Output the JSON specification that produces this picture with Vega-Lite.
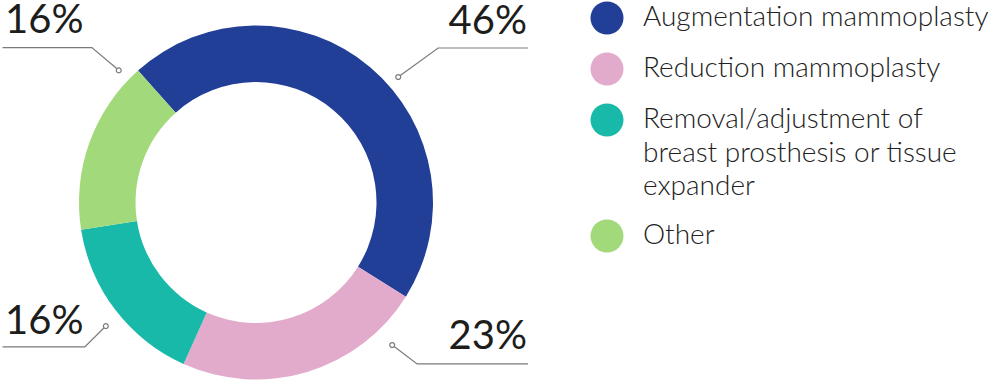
{
  "$schema": "https://vega.github.io/schema/vega-lite/v6.json",
  "width": 1005,
  "height": 383,
  "padding": 0,
  "autosize": {"type": "fit", "contains": "padding"},
  "config": {"view": {"stroke": null}, "font": "Lato"},
  "datasets": {
    "shares": [
      {"category": "Augmentation mammoplasty", "percent": 46, "rank": 1},
      {"category": "Reduction mammoplasty", "percent": 23, "rank": 2},
      {"category": "Removal/adjustment of breast prosthesis or tissue expander", "percent": 16, "rank": 3},
      {"category": "Other", "percent": 16, "rank": 4}
    ],
    "leaders": [
      {"label": "46%", "side": "right", "step": 1, "x": 0.805, "y": 0.709},
      {"label": "46%", "side": "right", "step": 2, "x": 1.031, "y": 0.873},
      {"label": "46%", "side": "right", "step": 3, "x": 1.54, "y": 0.873},
      {"label": "23%", "side": "right", "step": 1, "x": 0.771, "y": -0.805},
      {"label": "23%", "side": "right", "step": 2, "x": 0.912, "y": -0.912},
      {"label": "23%", "side": "right", "step": 3, "x": 1.54, "y": -0.912},
      {"label": "16% (removal)", "side": "left", "step": 1, "x": -0.85, "y": -0.698},
      {"label": "16% (removal)", "side": "left", "step": 2, "x": -0.969, "y": -0.816},
      {"label": "16% (removal)", "side": "left", "step": 3, "x": -1.435, "y": -0.816},
      {"label": "16% (other)", "side": "left", "step": 1, "x": -0.777, "y": 0.747},
      {"label": "16% (other)", "side": "left", "step": 2, "x": -0.929, "y": 0.875},
      {"label": "16% (other)", "side": "left", "step": 3, "x": -1.435, "y": 0.875}
    ],
    "callouts": [
      {"text": "46%", "side": "right", "x": 1.534, "y": 0.952},
      {"text": "23%", "side": "right", "x": 1.534, "y": -0.828},
      {"text": "16%", "side": "left", "x": -1.421, "y": 0.958},
      {"text": "16%", "side": "left", "x": -1.421, "y": -0.743}
    ]
  },
  "layer": [
    {
      "data": {"name": "shares"},
      "mark": {"type": "arc", "outerRadius": 177, "innerRadius": 120.5},
      "encoding": {
        "x": {"datum": 0, "type": "quantitative", "scale": {"domain": [-1.4379, 4.2401], "nice": false, "zero": false}, "axis": null},
        "y": {"datum": 0, "type": "quantitative", "scale": {"domain": [-1.0198, 1.1441], "nice": false, "zero": false}, "axis": null},
        "theta": {"field": "percent", "type": "quantitative", "stack": true, "scale": {"domain": [0, 101], "range": [-0.7295, 5.5537]}},
        "order": {"field": "rank", "type": "quantitative"},
        "color": {
          "field": "category",
          "type": "nominal",
          "scale": {
            "domain": ["Augmentation mammoplasty", "Reduction mammoplasty", "Removal/adjustment of breast prosthesis or tissue expander", "Other"],
            "range": ["#223f98", "#e2abcb", "#19b9a9", "#a1d97b"]
          },
          "legend": {
            "orient": "none",
            "legendX": 588.5,
            "legendY": 1.5,
            "padding": 0,
            "title": null,
            "symbolType": "circle",
            "symbolSize": 1089,
            "symbolStrokeWidth": 0,
            "symbolOpacity": 1,
            "labelFont": "Lato",
            "labelFontSize": 28,
            "labelFontWeight": 300,
            "labelColor": "#222222",
            "labelOffset": 19.5,
            "labelLimit": 420,
            "rowPadding": 18,
            "labelExpr": "datum.label == 'Removal/adjustment of breast prosthesis or tissue expander' ? ['Removal/adjustment of', 'breast prosthesis or tissue', 'expander'] : datum.label",
            "encode": {"labels": {"update": {"lineHeight": {"value": 33.5}}}}
          }
        }
      }
    },
    {
      "data": {"name": "leaders"},
      "mark": {"type": "line", "stroke": "#7a7a7a", "strokeWidth": 1.2},
      "encoding": {
        "x": {"field": "x", "type": "quantitative", "scale": {"domain": [-1.4379, 4.2401], "nice": false, "zero": false}, "axis": null},
        "y": {"field": "y", "type": "quantitative", "scale": {"domain": [-1.0198, 1.1441], "nice": false, "zero": false}, "axis": null},
        "detail": {"field": "label"},
        "order": {"field": "step", "type": "quantitative"}
      }
    },
    {
      "data": {"name": "leaders"},
      "transform": [{"filter": "datum.step == 1"}],
      "mark": {"type": "point", "shape": "circle", "size": 24, "filled": true, "fill": "white", "stroke": "#7a7a7a", "strokeWidth": 1.2, "opacity": 1},
      "encoding": {
        "x": {"field": "x", "type": "quantitative", "scale": {"domain": [-1.4379, 4.2401], "nice": false, "zero": false}, "axis": null},
        "y": {"field": "y", "type": "quantitative", "scale": {"domain": [-1.0198, 1.1441], "nice": false, "zero": false}, "axis": null}
      }
    },
    {
      "data": {"name": "callouts"},
      "transform": [{"filter": "datum.side == 'right'"}],
      "mark": {"type": "text", "align": "right", "baseline": "alphabetic", "font": "Lato", "fontSize": 40, "fontWeight": "normal", "color": "#1d1d1b"},
      "encoding": {
        "x": {"field": "x", "type": "quantitative", "scale": {"domain": [-1.4379, 4.2401], "nice": false, "zero": false}, "axis": null},
        "y": {"field": "y", "type": "quantitative", "scale": {"domain": [-1.0198, 1.1441], "nice": false, "zero": false}, "axis": null},
        "text": {"field": "text"}
      }
    },
    {
      "data": {"name": "callouts"},
      "transform": [{"filter": "datum.side == 'left'"}],
      "mark": {"type": "text", "align": "left", "baseline": "alphabetic", "font": "Lato", "fontSize": 40, "fontWeight": "normal", "color": "#1d1d1b"},
      "encoding": {
        "x": {"field": "x", "type": "quantitative", "scale": {"domain": [-1.4379, 4.2401], "nice": false, "zero": false}, "axis": null},
        "y": {"field": "y", "type": "quantitative", "scale": {"domain": [-1.0198, 1.1441], "nice": false, "zero": false}, "axis": null},
        "text": {"field": "text"}
      }
    }
  ]
}
